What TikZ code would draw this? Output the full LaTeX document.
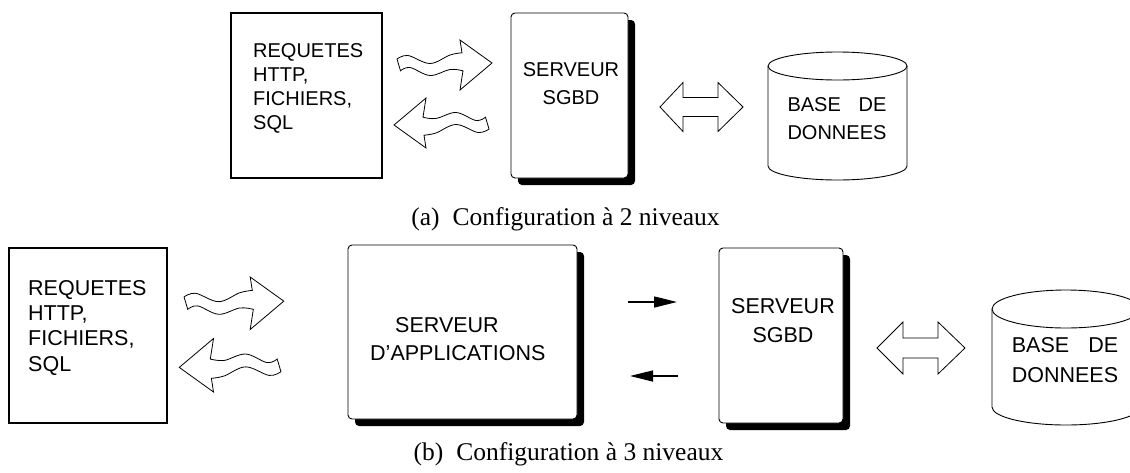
\documentclass[tikz,border=0pt]{standalone}
\usepackage{fontspec}
\setmainfont{Liberation Serif}
\newfontfamily\arial{Liberation Sans}
\usetikzlibrary{shadows,arrows.meta}
\newlength\dbw

% hollow straight double arrow: left x, right x, centre y, half shaft, half head, left head, right head
\newcommand\hollowdouble[7]{%
  \draw[hollow] (#1,#3) -- ({#1+#6},{#3-#5}) -- ({#1+#6},{#3-#4}) -- ({#2-#7},{#3-#4})
    -- ({#2-#7},{#3-#5}) -- (#2,#3) -- ({#2-#7},{#3+#5}) -- ({#2-#7},{#3+#4})
    -- ({#1+#6},{#3+#4}) -- ({#1+#6},{#3+#5}) -- cycle;}

% wavy hollow arrow pointing right in local frame (96 x 50)
\newcommand\wavyarrow[4]{%
  \begin{scope}[shift={(#1,#2)}, rotate=#3, scale=#4]
    \draw[hollow]
      plot[smooth, tension=0.6] coordinates {(1,19) (12,15.5) (34,23.5) (54,15) (66,12.8)}
      -- (64,0) -- (96,23) -- (64,50) -- (67,30.8)
      -- plot[smooth, tension=0.6] coordinates {(67,30.8) (54,29.5) (34,35.5) (14,27.5) (4.5,30.8)}
      -- cycle;
  \end{scope}}

% cylinder: centre x, left x, top centre y, bottom centre y, x radius, top y radius, bottom y radius
\newcommand\dbcylinder[7]{%
  \draw[cyl] (#2,#3) -- (#2,#4) arc[start angle=180, end angle=0, x radius=#5, y radius=#7]
    -- ({#2+2*#5},#3);
  \draw[cyl] (#1,#3) ellipse [x radius=#5, y radius=#6];}

\begin{document}
\begin{tikzpicture}[x=1pt, y=-1pt,
  plainbox/.style={draw, line width=1.3pt, inner sep=0pt},
  srvbox/.style={draw, line width=0.9pt, rounded corners=4pt, fill=white, inner sep=0pt,
    drop shadow={shadow xshift=7pt, shadow yshift=-7pt, opacity=1, fill=black}},
  hollow/.style={draw, line width=0.8pt, fill=white, line join=miter},
  cyl/.style={line width=0.9pt},
  txtA/.style={font=\arial\fontsize{20}{24.2}\selectfont, inner sep=0pt},
  txtB/.style={font=\arial\fontsize{21.5}{25.3}\selectfont, inner sep=0pt},
  captxt/.style={font=\fontsize{25.5}{30}\selectfont, inner sep=0pt},
  sharp/.style={line width=1.3pt, -{Triangle[length=23pt, width=11pt]}}]
\useasboundingbox (0,0) rectangle (1130,472);
\clip (0,0) rectangle (1130,472);

% ---------- (a) two-tier configuration ----------
\node[plainbox, minimum width=151pt, minimum height=165pt] (reqA) at (306.5,95.5) {};
\node[txtA, align=left, anchor=north west] (reqAt) at (253,43)
  {REQUETES\\HTTP,\\FICHIERS,\\SQL};

\wavyarrow{396}{40}{0}{1}
\wavyarrow{490}{148}{180}{1}

\node[srvbox, minimum width=117pt, minimum height=165pt] (sgbdA) at (569.5,95.5) {};
\node[txtA, font=\arial\fontsize{20}{28}\selectfont, align=center, anchor=north] (sgbdAt) at (571,62)
  {SERVEUR\\SGBD};

\hollowdouble{660}{743}{107}{9.5}{24.5}{23}{25}

\dbcylinder{837.5}{768}{66}{166}{69.5}{14}{14}
\node[txtA, font=\arial\fontsize{20}{28}\selectfont, align=left, anchor=north] (dbAt) at (837,97)
  {\settowidth{\dbw}{DONNEES}\makebox[\dbw][l]{BASE\hfill DE}\\DONNEES};

\node[captxt, anchor=base] (capA) at (565.5,225) {(a)\hspace{13pt}Configuration à 2 niveaux};

% ---------- (b) three-tier configuration ----------
\node[plainbox, minimum width=158pt, minimum height=175pt] (reqB) at (88,335.5) {};
\node[txtB, align=left, anchor=north west] (reqBt) at (28,280)
  {REQUETES\\HTTP,\\FICHIERS,\\SQL};

\wavyarrow{183}{277}{0}{1.05}
\wavyarrow{282}{392}{180}{1.07}

\node[srvbox, minimum width=229pt, minimum height=174pt] (app) at (462.5,332) {};
\node[txtB, font=\arial\fontsize{21.5}{28}\selectfont, align=left, anchor=north west] (appt) at (370,317)
  {\hspace*{25pt}SERVEUR\\D’APPLICATIONS};

\coordinate (fwdS) at (628,302);
\coordinate (fwdE) at (677,302);
\coordinate (bckS) at (678,376);
\coordinate (bckE) at (630,376);
\draw[sharp] (fwdS) -- (fwdE);
\draw[sharp] (bckS) -- (bckE);

\node[srvbox, minimum width=124pt, minimum height=175pt] (sgbdB) at (781,335.5) {};
\node[txtB, font=\arial\fontsize{21.5}{29}\selectfont, align=center, anchor=north] (sgbdBt) at (783,298)
  {SERVEUR\\SGBD};

\hollowdouble{877}{965}{348}{10}{26}{26}{27}

\dbcylinder{1066}{992}{309}{407}{74}{19}{18}
\node[txtB, font=\arial\fontsize{21.5}{30}\selectfont, align=left, anchor=north] (dbBt) at (1065,337)
  {\settowidth{\dbw}{DONNEES}\makebox[\dbw][l]{BASE\hfill DE}\\DONNEES};

\node[captxt, anchor=base] (capB) at (568.5,460) {(b)\hspace{13pt}Configuration à 3 niveaux};
\end{tikzpicture}
\end{document}
